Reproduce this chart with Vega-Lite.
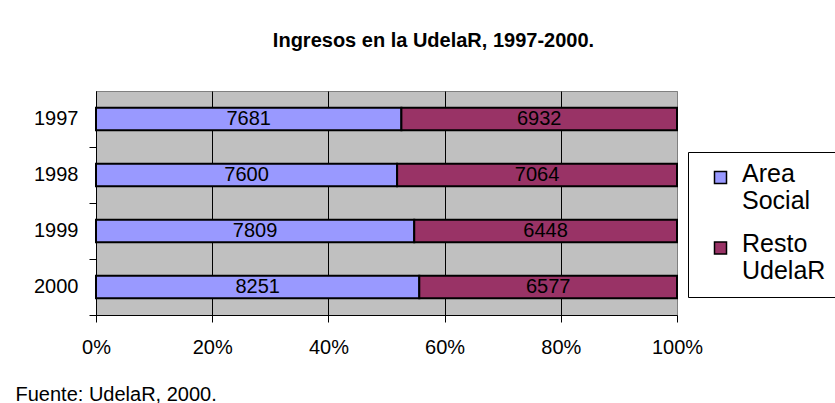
{
  "$schema": "https://vega.github.io/schema/vega-lite/v6.json",
  "autosize": "none",
  "width": 581,
  "height": 224,
  "padding": {"left": 96, "top": 91, "right": 158, "bottom": 88},
  "background": "white",
  "title": {
    "text": "Ingresos en la UdelaR, 1997-2000.",
    "fontSize": 20,
    "fontWeight": "bold",
    "font": "Liberation Sans",
    "color": "black",
    "anchor": "middle",
    "frame": "group",
    "dx": 47,
    "offset": 40
  },
  "data": {
    "values": [
      {"year": "1997", "cat": "Area Social", "value": 7681},
      {"year": "1997", "cat": "Resto UdelaR", "value": 6932},
      {"year": "1998", "cat": "Area Social", "value": 7600},
      {"year": "1998", "cat": "Resto UdelaR", "value": 7064},
      {"year": "1999", "cat": "Area Social", "value": 7809},
      {"year": "1999", "cat": "Resto UdelaR", "value": 6448},
      {"year": "2000", "cat": "Area Social", "value": 8251},
      {"year": "2000", "cat": "Resto UdelaR", "value": 6577}
    ]
  },
  "encoding": {
    "y": {
      "field": "year",
      "type": "ordinal",
      "scale": {"paddingInner": 0.6, "paddingOuter": 0.3},
      "axis": {
        "title": null,
        "bandPosition": 1.75,
        "tickSize": 7,
        "tickColor": "black",
        "domainColor": "black",
        "labelFontSize": 20,
        "labelColor": "black",
        "labelPadding": 11,
        "grid": false
      }
    }
  },
  "layer": [
    {
      "mark": {"type": "bar", "stroke": "black", "strokeWidth": 2},
      "encoding": {
        "x": {
          "field": "value",
          "type": "quantitative",
          "stack": "normalize",
          "scale": {"domain": [0, 1], "nice": false},
          "axis": {
            "values": [0, 0.2, 0.4, 0.6, 0.8, 1],
            "format": ".0%",
            "labelFlush": false,
            "grid": true,
            "gridColor": {"condition": {"test": "datum.value === 1", "value": "#808080"}, "value": "black"},
            "gridWidth": 1,
            "gridOpacity": 1,
            "domainColor": "black",
            "tickColor": "black",
            "tickSize": 7,
            "labelFontSize": 20,
            "labelColor": "black",
            "labelPadding": 15,
            "title": "Fuente: UdelaR, 2000.",
            "titleFontSize": 20,
            "titleFontWeight": "normal",
            "titleColor": "black",
            "titleAlign": "left",
            "titleAnchor": "start",
            "titleBaseline": "alphabetic",
            "titleX": -81,
            "titleY": 85
          }
        },
        "order": {"field": "cat", "sort": "ascending"},
        "color": {
          "field": "cat",
          "type": "nominal",
          "scale": {"domain": ["Area Social", "Resto UdelaR"], "range": ["#9999FF", "#993366"]},
          "legend": {
            "title": null,
            "orient": "none",
            "legendX": 592,
            "legendY": 61,
            "direction": "vertical",
            "strokeColor": "black",
            "fillColor": "white",
            "padding": 13,
            "symbolType": "square",
            "symbolSize": 144,
            "symbolOffset": 7,
            "symbolStrokeColor": "black",
            "symbolStrokeWidth": 1.5,
            "symbolOpacity": 1,
            "labelFontSize": 25,
            "labelColor": "black",
            "labelOffset": 9,
            "labelLineHeight": 31,
            "labelBaseline": "alphabetic",
            "labelLimit": 300,
            "rowPadding": 17.5,
            "labelExpr": "split(datum.label, ' ')",
            "encode": {"labels": {"update": {"dy": {"value": 4}}}}
          }
        }
      }
    },
    {
      "mark": {"type": "text", "fontSize": 20, "color": "black"},
      "encoding": {
        "x": {"field": "value", "type": "quantitative", "stack": "normalize", "bandPosition": 0.5},
        "detail": {"field": "cat", "type": "nominal"},
        "order": {"field": "cat", "sort": "ascending"},
        "text": {"field": "value", "type": "quantitative", "format": "d"}
      }
    }
  ],
  "config": {
    "font": "Liberation Sans",
    "view": {"fill": "#C0C0C0", "stroke": "#808080", "strokeWidth": 1}
  }
}
